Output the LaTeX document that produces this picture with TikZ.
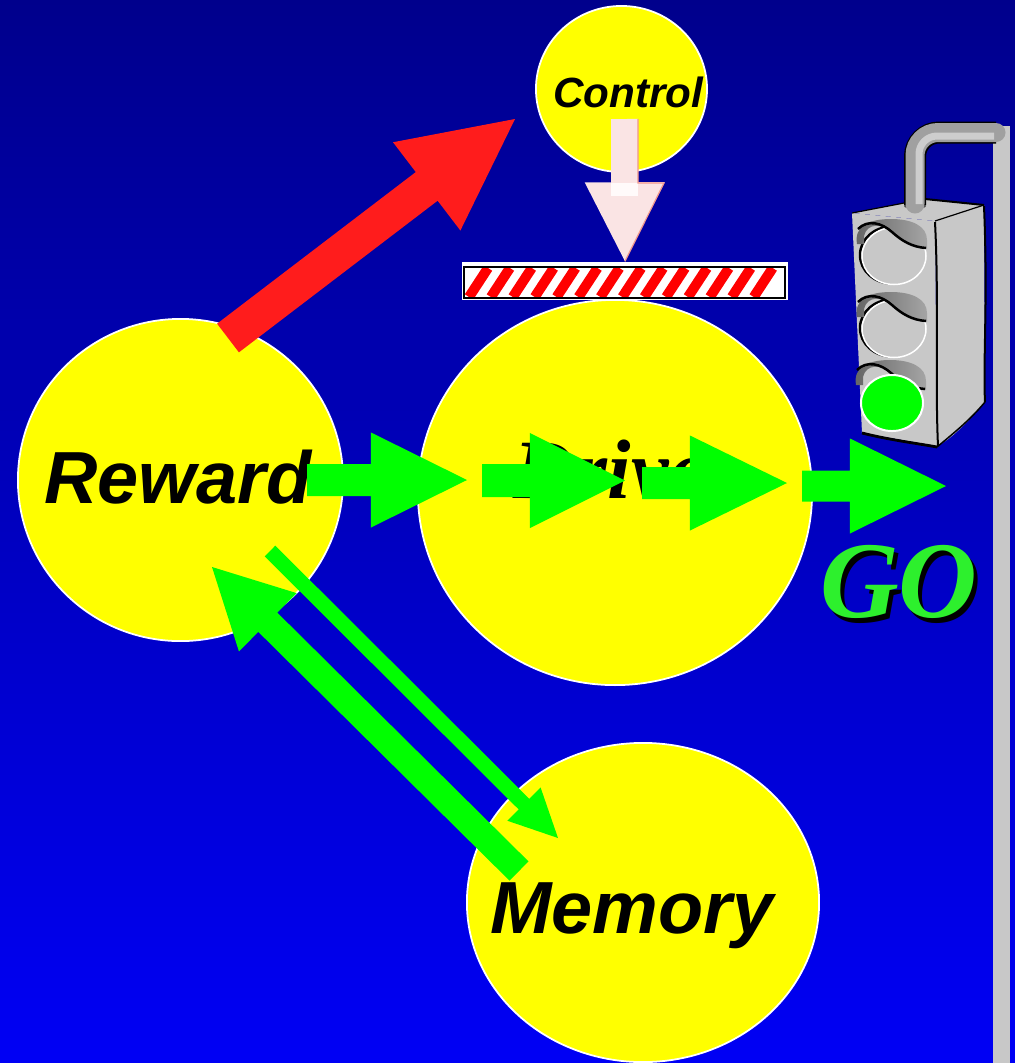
\documentclass[tikz,border=0pt]{standalone}
\usepackage{fontspec}
\setmainfont{Liberation Sans}
\newfontfamily\drivefont{Liberation Serif}
\usetikzlibrary{shapes.geometric,calc}

\definecolor{bgtop}{RGB}{0,0,140}
\definecolor{bgbot}{RGB}{0,0,245}
\definecolor{bubbleyellow}{RGB}{255,255,0}
\definecolor{signalgreen}{RGB}{0,255,0}
\definecolor{gotext}{RGB}{45,240,45}
\definecolor{alarmred}{RGB}{255,28,28}
\definecolor{inhib}{RGB}{250,228,228}
\definecolor{inhibhi}{RGB}{255,250,250}
\definecolor{inhibedge}{RGB}{240,150,140}
\definecolor{metal}{RGB}{200,200,200}
\definecolor{visordark}{RGB}{100,100,100}
\definecolor{visorlight}{RGB}{165,165,165}
\definecolor{pipegray}{RGB}{160,160,160}
\definecolor{pipehi}{RGB}{205,205,205}
\definecolor{stripered}{RGB}{255,0,0}

% block arrow: [fill style]{tail}{tip}{shaft width}{head width}{head length}
\newcommand\blockarrow[6][]{%
  \coordinate (ba-base) at ($(#3)!#6!(#2)$);
  \fill[#1] ($(#2)!0.5*#4!90:(#3)$) -- ($(ba-base)!0.5*#4!90:(#3)$)
    -- ($(ba-base)!0.5*#5!90:(#3)$) -- (#3)
    -- ($(ba-base)!0.5*#5!-90:(#3)$) -- ($(ba-base)!0.5*#4!-90:(#3)$)
    -- ($(#2)!0.5*#4!-90:(#3)$) -- cycle;}

% hood over a lamp, drawn around the lamp centre
\newcommand\lampvisor[1]{%
  \begin{scope}[shift={(#1)}]
    \shade[left color=visordark,right color=visorlight]
      (-37,-12) .. controls (-40,-30) and (-25,-37) .. (-3,-37)
      .. controls (18,-37) and (33,-30) .. (33,-16) -- (33,-7)
      .. controls (18,-9) and (8,-16) .. (-2,-24)
      .. controls (-12,-33) and (-27,-33) .. (-30,-20) -- (-30,-12) -- cycle;
    \draw[line width=0.025cm]
      (-36,-27) .. controls (-26,-37) and (-12,-33) .. (-2,-24)
      .. controls (8,-15) and (18,-9) .. (32,-8);
  \end{scope}}

\begin{document}
\begin{tikzpicture}[x=0.01cm,y=-0.01cm,
  bubble/.style={ellipse,draw=white,line width=0.5pt,fill=bubbleyellow,inner sep=0pt},
  sanslabel/.style={inner sep=0pt,anchor=base,font=\fontsize{#1}{#1}\selectfont\bfseries\itshape},
  seriflabel/.style={inner sep=0pt,anchor=base,font=\drivefont\fontsize{#1}{#1}\selectfont\bfseries\itshape},
  lampglass/.style={fill=metal,draw=white,line width=0.015cm},
  boxedge/.style={line width=0.02cm,line join=round}]

\useasboundingbox (0,0) rectangle (1015,1063);
\shade[top color=bgtop,bottom color=bgbot] (0,0) rectangle (1015,1063);

% --- the four concepts ---
\node[bubble,minimum width=3.25cm,minimum height=3.22cm] (reward)  at (180.5,480) {};
\node[bubble,minimum width=3.94cm,minimum height=3.85cm] (drive)   at (615,492.5) {};
\node[bubble,minimum width=1.71cm,minimum height=1.66cm] (control) at (621.5,89) {};
\node[bubble,minimum width=3.52cm,minimum height=3.19cm] (memory)  at (643,902.5) {};

\node[sanslabel=21] (reward-text)  at (178,503) {Reward};
\node[sanslabel=12] (control-text) at (628,107) {Control};
\node[sanslabel=21] (memory-text)  at (632,933) {Memory};
\node[seriflabel=24] (drive-text)  at (610,498) {Drive};

% --- brake bar under Control ---
\node[rectangle,fill=white,minimum width=3.26cm,minimum height=0.38cm,inner sep=0pt] (bar) at (625,281) {};
\begin{scope}
  \clip (465,268) rectangle (784,297);
  \foreach \k in {0,...,13}
    \draw[stripered,line width=0.10cm] ({488+21.9*\k},268) -- ({469+21.9*\k},297);
\end{scope}
\draw[line width=0.022cm] (464,267) rectangle (785,298);

% --- Control inhibits the drive ---
\coordinate (ctl-tail) at (624.5,119);
\blockarrow[fill=inhib]{ctl-tail}{bar.north}{0.27cm}{0.80cm}{0.79cm}
\fill[inhibhi] (611,183) rectangle (638,196);
\draw[inhibedge,line width=0.012cm] (638,119) -- (638,183) -- (664,183) -- (bar.north);

% --- Reward excites Control ---
\coordinate (red-tail) at (228,338);
\coordinate (red-tip)  at (515,119);
\blockarrow[fill=alarmred]{red-tail}{red-tip}{0.36cm}{1.11cm}{1.11cm}

% --- chain of go signals through Drive ---
\coordinate (g1a) at (307,480);   \coordinate (g1b) at (467,480);
\coordinate (g2a) at (482,480.5); \coordinate (g2b) at (625,480.5);
\coordinate (g3a) at (642,483);   \coordinate (g3b) at (787,483);
\coordinate (g4a) at (802,486);   \coordinate (g4b) at (946,486);
\blockarrow[fill=signalgreen]{g1a}{g1b}{0.32cm}{0.95cm}{0.96cm}
\blockarrow[fill=signalgreen]{g2a}{g2b}{0.33cm}{0.95cm}{0.95cm}
\blockarrow[fill=signalgreen]{g3a}{g3b}{0.32cm}{0.95cm}{0.97cm}
\blockarrow[fill=signalgreen]{g4a}{g4b}{0.31cm}{0.95cm}{0.96cm}

% --- Reward <-> Memory ---
\coordinate (mem-tail) at (519,871);
\coordinate (rew-tip)  at (212,567);
\blockarrow[fill=signalgreen]{mem-tail}{rew-tip}{0.27cm}{0.82cm}{0.785cm}
\coordinate (rew-tail) at (270,551);
\coordinate (mem-tip)  at (558,838);
\blockarrow[fill=signalgreen]{rew-tail}{mem-tip}{0.15cm}{0.47cm}{0.48cm}

% --- traffic light ---
\fill[metal] (993,126) rectangle (1010,1063);
% housing
\fill[metal] (852,213) -- (925,199) -- (984,205) -- (935,221) -- cycle;
\fill[metal] (852,213) -- (935,221) -- (937,446) -- (862,433) -- cycle;
\fill[metal] (935,221) -- (984,205) -- (985,402) .. controls (965,425) and (950,440) .. (937,446) -- cycle;
\draw[line width=0.012cm] (852,213) -- (925,199);
\draw[boxedge] (925,199) -- (984,205);
\draw[line width=0.012cm] (935,221) -- (984,205);
\draw[boxedge] (935,222) .. controls (939,300) and (935,380) .. (938,446);
\draw[boxedge] (984,206) .. controls (988,300) and (983,360) .. (985,402);
\draw[line width=0.028cm] (862,433) .. controls (890,440) and (915,443) .. (937,447);
\draw[line width=0.015cm] (937,447) .. controls (955,432) and (970,420) .. (985,402);
% arm from the pole
\fill[black!70] (915,206) ellipse [x radius=11, y radius=3];
\draw[line width=0.22cm,rounded corners=0.24cm] (915,205) -- (915,132.5) -- (996,132.5);
\draw[pipegray,line width=0.19cm,rounded corners=0.23cm,line cap=round] (915,204) -- (915,132.5) -- (996,132.5);
\draw[pipehi,line width=0.07cm,rounded corners=0.18cm] (919,204) -- (919,136) -- (994,136);
% lamps
\foreach \cy in {256,329} {
  \draw[line width=0.025cm] (892,\cy-1) ellipse [x radius=32, y radius=28.5];
  \draw[lampglass] (894,\cy) ellipse [x radius=32, y radius=28.5];
  \lampvisor{894,\cy}
}
\lampvisor{893,397}
\node[ellipse,fill=signalgreen,draw=white,line width=0.02cm,minimum width=0.62cm,minimum height=0.56cm,inner sep=0pt] (green-lamp) at (892,403) {};

% --- GO ---
\node[seriflabel=31,text=black] (go-shadow) at (903,622) {GO};
\node[seriflabel=31,text=gotext] (go-label) at (899,617) {GO};

\end{tikzpicture}
\end{document}
